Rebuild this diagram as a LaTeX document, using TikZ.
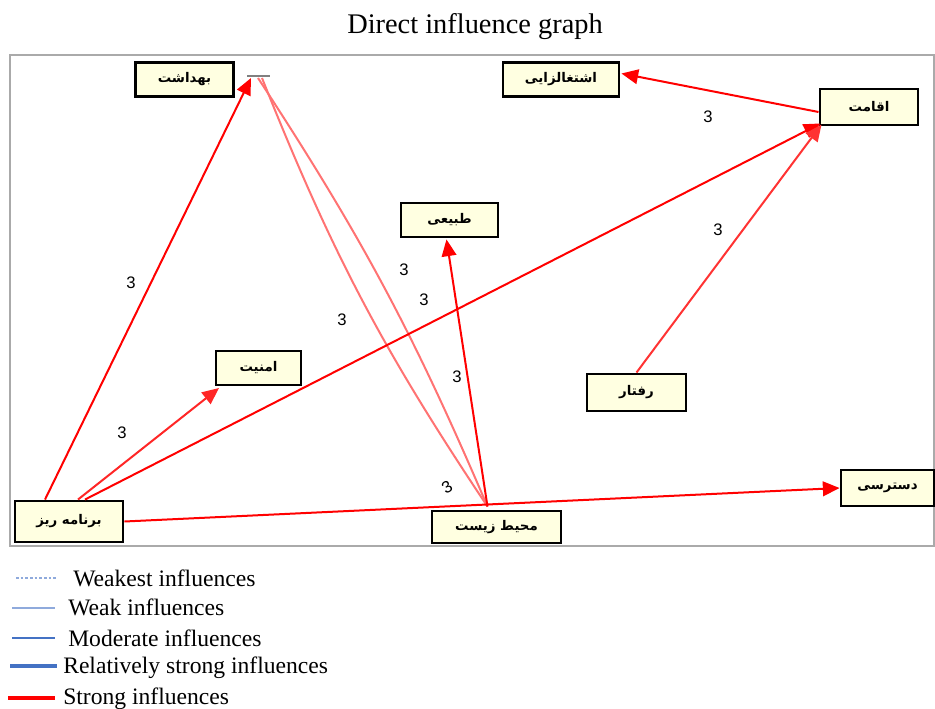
\documentclass[tikz,border=0pt]{standalone}
\usepackage{fontspec}
\setmainfont{Liberation Serif}
\newfontfamily\fa[Script=Arabic]{DejaVu Sans}
\newfontfamily\numfont{Liberation Sans}
\TeXXeTstate=1
\usetikzlibrary{arrows.meta,calc}
\definecolor{cream}{RGB}{255,255,225}
\definecolor{lblue}{RGB}{143,170,220}
\definecolor{mblue}{RGB}{68,114,196}
\definecolor{framegray}{RGB}{170,170,170}
\begin{document}
\begin{tikzpicture}[x=0.75pt,y=-0.75pt,
  box/.style 2 args={draw=black,line width=2.2pt,fill=cream,minimum width=#1,minimum height=#2,inner sep=0pt,font=\fa\bfseries\fontsize{10}{11}\selectfont},
  inf/.style={red,line width=1.5pt,-{Triangle[length=12.5pt,width=11pt]}},
  infsoft/.style={red!55,line width=1.5pt},
  lbl/.style={font=\numfont\fontsize{12.5}{14}\selectfont,inner sep=0pt},
  legtxt/.style={anchor=west,inner sep=0pt,font=\fontsize{17.7}{20}\selectfont}]
\useasboundingbox (0,0) rectangle (935,709);
% title
\node[font=\fontsize{21.3}{24}\selectfont] (title) at (475,27) {Direct influence graph};
% frame
\draw[framegray,line width=1.6pt] (10,55) rectangle (934,546);
% nodes
\node[box={74pt}{26pt}] (hea) at (184.5,79.5) {\beginR بهداشت\endR};
\node[box={87pt}{26pt}] (emp) at (561,79.5) {\beginR اشتغالزایی\endR};
\node[box={73.5pt}{27pt}] (res) at (869,107) {\beginR اقامت\endR};
\node[box={72.75pt}{25.5pt}] (nat) at (449.5,220) {\beginR طبیعی\endR};
\node[box={63.75pt}{25.5pt},line width=1.5pt] (sec) at (258.5,368) {\beginR امنیت\endR};
\node[box={74.25pt}{27.75pt}] (beh) at (636.5,392.5) {\beginR رفتار\endR};
\node[box={69.75pt}{27pt}] (acc) at (887.5,488) {\beginR دسترسی\endR};
\node[box={81pt}{30.75pt}] (pln) at (69,521.5) {\beginR برنامه ریز\endR};
\node[box={96.75pt}{24pt}] (env) at (496.5,527) {\beginR محیط زیست\endR};
% small gray target mark of health
\coordinate (hl) at (247,76);
\coordinate (hr) at (270,76);
\draw[gray,line width=1.5pt] (hl) -- (hr);
\coordinate (htP) at (251,78);
\coordinate (htA) at (258,78);
\coordinate (htB) at (262,78);
\coordinate (envtop) at ($(env.north)+(-9,-3)$);
% edges
\draw[infsoft] (envtop) to[bend right=5] (htA);
\draw[infsoft] (envtop) to[bend left=6] (htB);
\draw[inf] ($(pln.north)+(-24,0)$) -- (htP);
\draw[inf,red!85] ($(pln.north)+(9,0)$) -- ($(sec.south west)+(4,2)$);
\draw[inf] ($(pln.north)+(16,0)$) -- ($(res.south west)+(2,-3)$);
\draw[inf] (pln.east) -- (acc.west);
\draw[inf] (envtop) -- ($(nat.south)+(-3,1)$);
\draw[inf,red!80] (beh.north) -- ($(res.south west)+(3,-2)$);
\draw[inf] ($(res.west)+(0,5)$) -- ($(emp.east)+(1,-6)$);
% labels
\node[lbl] (l1) at (131,283) {3};
\node[lbl] (l2) at (122,433) {3};
\node[lbl] (l3) at (342,320) {3};
\node[lbl] (l4) at (404,270) {3};
\node[lbl] (l5) at (424,300) {3};
\node[lbl] (l6) at (457,377) {3};
\node[lbl,rotate=30] (l7) at (447,487) {3};
\node[lbl] (l8) at (708,117) {3};
\node[lbl] (l9) at (718,230) {3};
% legend
\coordinate (a1) at (16,578); \coordinate (b1) at (57,578);
\coordinate (a2) at (12,608); \coordinate (b2) at (55,608);
\coordinate (a3) at (12,638); \coordinate (b3) at (55,638);
\coordinate (a4) at (10,666); \coordinate (b4) at (57,666);
\coordinate (a5) at (8,698); \coordinate (b5) at (55,698);
\draw[lblue,line width=0.8pt,dash pattern=on 2pt off 1.5pt] (a1) -- (b1);
\draw[lblue,line width=0.8pt] (a2) -- (b2);
\draw[mblue,line width=1.7pt] (a3) -- (b3);
\draw[mblue,line width=2.6pt] (a4) -- (b4);
\draw[red,line width=2.4pt] (a5) -- (b5);
\node[legtxt] (t1) at (73,578) {Weakest influences};
\node[legtxt] (t2) at (68,607) {Weak influences};
\node[legtxt] (t3) at (68,638) {Moderate influences};
\node[legtxt] (t4) at (63,668) {Relatively strong influences};
\node[legtxt] (t5) at (63,699) {Strong influences};
\end{tikzpicture}
\end{document}
